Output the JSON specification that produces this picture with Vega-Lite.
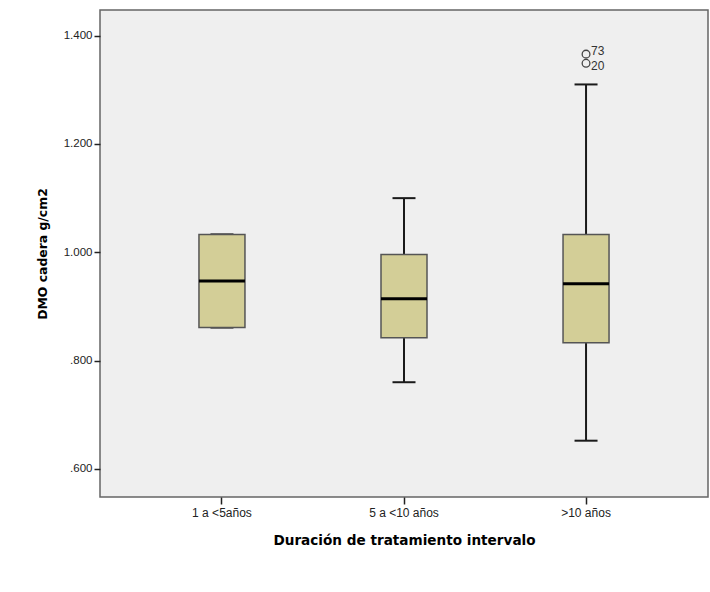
{
  "$schema": "https://vega.github.io/schema/vega-lite/v6.json",
  "autosize": {"type": "none"},
  "width": 608,
  "height": 487,
  "padding": {"left": 100, "top": 10, "right": 2, "bottom": 95},
  "background": "white",
  "config": {
    "view": {"fill": "#EFEFEF", "stroke": "#666666", "strokeWidth": 1.5},
    "axis": {"grid": false, "domain": false, "tickColor": "#222222", "tickWidth": 1.5, "labelColor": "#222222", "labelFont": "Liberation Sans", "titleColor": "#000000"}
  },
  "datasets": {
    "stats": [
      {"grupo": "1 a <5años", "lower": 0.861, "q1": 0.861, "median": 0.947, "q3": 1.033, "upper": 1.033},
      {"grupo": "5 a <10 años", "lower": 0.760, "q1": 0.842, "median": 0.914, "q3": 0.996, "upper": 1.100},
      {"grupo": ">10 años", "lower": 0.652, "q1": 0.833, "median": 0.942, "q3": 1.033, "upper": 1.310}
    ],
    "outliers": [
      {"grupo": ">10 años", "valor": 1.366, "caso": "73"},
      {"grupo": ">10 años", "valor": 1.349, "caso": "20"}
    ]
  },
  "encoding": {
    "x": {
      "field": "grupo", "type": "nominal", "sort": ["1 a <5años", "5 a <10 años", ">10 años"],
      "scale": {"type": "band", "paddingInner": 0.2, "paddingOuter": 0.27},
      "axis": {"title": "Duración de tratamiento intervalo", "labelAngle": 0, "tickSize": 7, "labelPadding": 3, "labelFontSize": 12,
               "titleFont": "DejaVu Sans", "titleFontSize": 13.6, "titleFontWeight": "bold", "titleBaseline": "middle", "titleY": 43}
    }
  },
  "layer": [
    {
      "data": {"name": "stats"},
      "mark": {"type": "rule", "color": "#1a1a1a", "strokeWidth": 2},
      "encoding": {
        "y": {"field": "lower", "type": "quantitative",
              "scale": {"domain": [0.548, 1.4475], "nice": false, "zero": false},
              "axis": {"title": "DMO cadera g/cm2", "values": [0.6, 0.8, 1.0, 1.2, 1.4], "tickSize": 6, "labelPadding": 2, "labelFontSize": 11.5,
                       "labelExpr": "datum.value < 1 ? substring(format(datum.value, '.3f'), 1) : format(datum.value, '.3f')",
                       "titleFont": "DejaVu Sans", "titleFontSize": 12.4, "titleFontWeight": "bold", "titleBaseline": "middle", "titleX": -58, "titleY": 243.5}},
        "y2": {"field": "upper"}
      }
    },
    {
      "data": {"name": "stats"},
      "mark": {"type": "tick", "orient": "horizontal", "color": "#1a1a1a", "opacity": 1, "size": 23, "thickness": 2},
      "encoding": {"y": {"field": "lower", "type": "quantitative"}}
    },
    {
      "data": {"name": "stats"},
      "mark": {"type": "tick", "orient": "horizontal", "color": "#1a1a1a", "opacity": 1, "size": 23, "thickness": 2},
      "encoding": {"y": {"field": "upper", "type": "quantitative"}}
    },
    {
      "data": {"name": "stats"},
      "mark": {"type": "bar", "size": 46, "fill": "#D3CE97", "stroke": "#555555", "strokeWidth": 1.5},
      "encoding": {"y": {"field": "q1", "type": "quantitative"}, "y2": {"field": "q3"}}
    },
    {
      "data": {"name": "stats"},
      "mark": {"type": "tick", "orient": "horizontal", "color": "#000000", "opacity": 1, "size": 46, "thickness": 3},
      "encoding": {"y": {"field": "median", "type": "quantitative"}}
    },
    {
      "data": {"name": "outliers"},
      "mark": {"type": "point", "shape": "circle", "filled": false, "opacity": 1, "size": 60, "stroke": "#444444", "strokeWidth": 1.3},
      "encoding": {"y": {"field": "valor", "type": "quantitative"}}
    },
    {
      "data": {"name": "outliers"},
      "transform": [{"filter": "datum.caso == '73'"}],
      "mark": {"type": "text", "align": "left", "baseline": "middle", "dx": 5, "dy": -3, "font": "Liberation Sans", "fontSize": 12, "color": "#333333"},
      "encoding": {"y": {"field": "valor", "type": "quantitative"}, "text": {"field": "caso"}}
    },
    {
      "data": {"name": "outliers"},
      "transform": [{"filter": "datum.caso == '20'"}],
      "mark": {"type": "text", "align": "left", "baseline": "middle", "dx": 5, "dy": 3, "font": "Liberation Sans", "fontSize": 12, "color": "#333333"},
      "encoding": {"y": {"field": "valor", "type": "quantitative"}, "text": {"field": "caso"}}
    }
  ]
}
